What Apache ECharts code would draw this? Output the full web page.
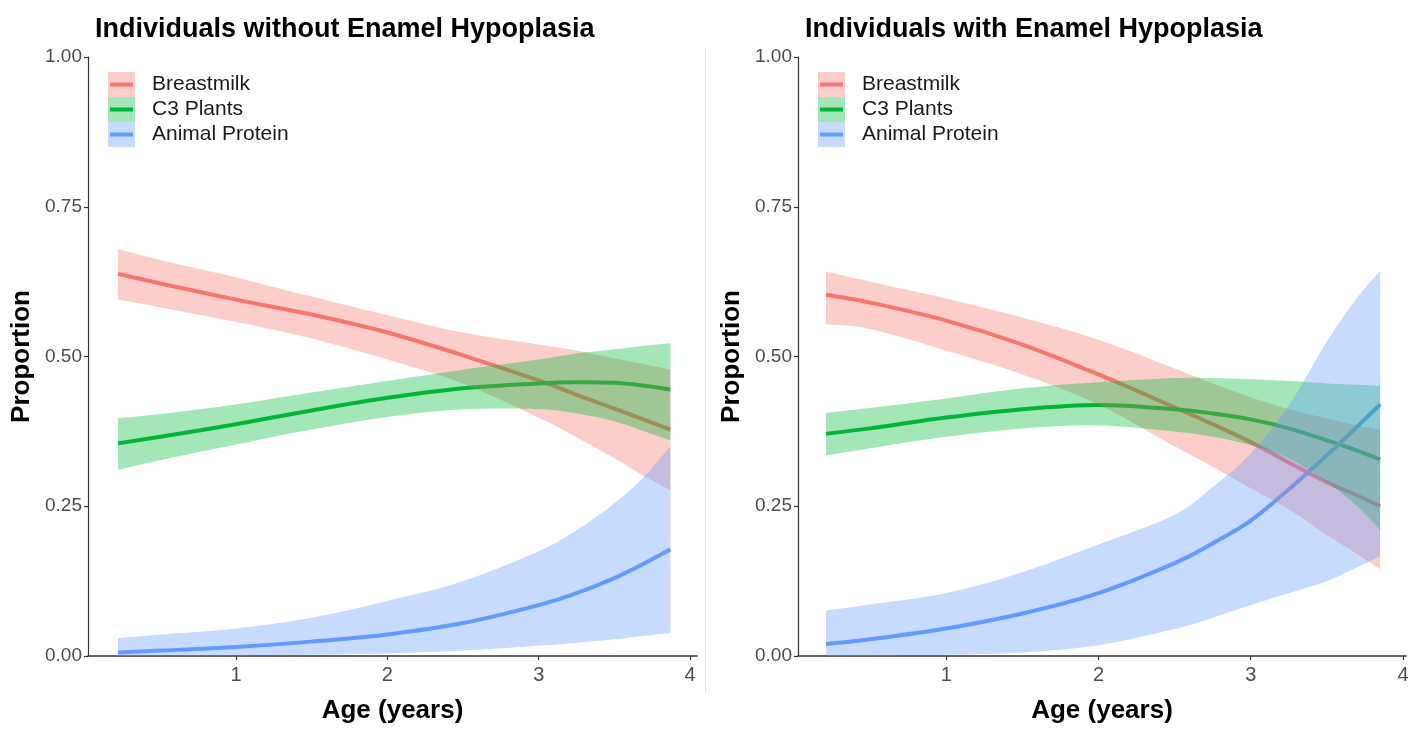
<!DOCTYPE html>
<html><head><meta charset="utf-8">
<script src="https://cdn.jsdelivr.net/npm/echarts@6/dist/echarts.min.js"></script>
<style>html,body{margin:0;padding:0;background:#fff}#c{width:1418px;height:729px}</style>
</head><body><div id="c"></div>
<script>
// ---- Left panel: Individuals without Enamel Hypoplasia ----
const ageL   = [0.22, 0.5, 1.0, 1.5, 2.0, 2.5, 3.0, 3.25, 3.5, 3.7, 3.87];
const bmL    = [0.638, 0.622, 0.595, 0.570, 0.540, 0.502, 0.460, 0.436, 0.413, 0.394, 0.378];
const bmLoL  = [0.595, 0.582, 0.558, 0.530, 0.495, 0.455, 0.398, 0.365, 0.330, 0.300, 0.277];
const bmHiL  = [0.680, 0.661, 0.632, 0.600, 0.569, 0.540, 0.520, 0.510, 0.497, 0.487, 0.478];
const c3L    = [0.355, 0.366, 0.387, 0.410, 0.431, 0.447, 0.455, 0.457, 0.456, 0.451, 0.445];
const c3LoL  = [0.311, 0.327, 0.353, 0.378, 0.399, 0.412, 0.412, 0.405, 0.392, 0.375, 0.360];
const c3HiL  = [0.397, 0.404, 0.420, 0.440, 0.459, 0.478, 0.495, 0.505, 0.512, 0.518, 0.522];
const apL    = [0.006, 0.009, 0.015, 0.024, 0.036, 0.055, 0.085, 0.105, 0.130, 0.155, 0.178];
const apLoL  = [0.000, 0.0005, 0.001, 0.002, 0.004, 0.009, 0.017, 0.022, 0.028, 0.034, 0.038];
const apHiL  = [0.030, 0.036, 0.046, 0.064, 0.092, 0.125, 0.175, 0.210, 0.255, 0.300, 0.350];

// ---- Right panel: Individuals with Enamel Hypoplasia ----
const ageR   = [0.21, 0.5, 1.0, 1.5, 2.0, 2.5, 2.75, 3.0, 3.25, 3.5, 3.7, 3.85];
const bmR    = [0.603, 0.590, 0.560, 0.520, 0.470, 0.415, 0.387, 0.357, 0.323, 0.290, 0.268, 0.250];
const bmLoR  = [0.554, 0.546, 0.510, 0.470, 0.420, 0.350, 0.316, 0.280, 0.245, 0.202, 0.170, 0.145];
const bmHiR  = [0.642, 0.625, 0.597, 0.565, 0.528, 0.480, 0.455, 0.432, 0.412, 0.397, 0.385, 0.378];
const c3R    = [0.371, 0.380, 0.398, 0.412, 0.419, 0.412, 0.405, 0.395, 0.380, 0.360, 0.343, 0.328];
const c3LoR  = [0.335, 0.347, 0.366, 0.380, 0.385, 0.375, 0.366, 0.352, 0.330, 0.290, 0.250, 0.210];
const c3HiR  = [0.406, 0.414, 0.430, 0.447, 0.457, 0.464, 0.464, 0.462, 0.459, 0.455, 0.453, 0.451];
const apR    = [0.020, 0.028, 0.046, 0.071, 0.105, 0.155, 0.188, 0.226, 0.278, 0.335, 0.383, 0.420];
const apLoR  = [0.000, 0.0005, 0.002, 0.006, 0.018, 0.045, 0.064, 0.085, 0.105, 0.125, 0.148, 0.167];
const apHiR  = [0.076, 0.086, 0.105, 0.140, 0.186, 0.236, 0.282, 0.338, 0.418, 0.525, 0.598, 0.643];

const titles = ['Individuals without Enamel Hypoplasia', 'Individuals with Enamel Hypoplasia'];
const seriesNames = ['Breastmilk', 'C3 Plants', 'Animal Protein'];
const xTicks = [1, 2, 3, 4];

const FONT = '"Liberation Sans", Arial, Helvetica, sans-serif';
const lineColors = ['#F8766D', '#00B238', '#619CFF'];
const bandColors = ['rgba(248,118,109,0.36)', 'rgba(0,186,56,0.36)', 'rgba(97,156,255,0.36)'];

const panels = [
  {age: ageL, mean: [bmL, c3L, apL], lo: [bmLoL, c3LoL, apLoL], hi: [bmHiL, c3HiL, apHiL]},
  {age: ageR, mean: [bmR, c3R, apR], lo: [bmLoR, c3LoR, apLoR], hi: [bmHiR, c3HiR, apHiR]}
];

const grids = [
  {left: 88, top: 57, width: 609, height: 605},
  {left: 798, top: 57, width: 608, height: 605}
];
const xRanges = [[0.022, 4.046], [0.026, 4.02]];

const xAxes = grids.map((g, i) => ({
  type: 'value', gridIndex: i, min: xRanges[i][0], max: xRanges[i][1],
  name: 'Age (years)', nameLocation: 'middle', nameGap: 42,
  nameTextStyle: {fontFamily: FONT, fontSize: 26, fontWeight: 'bold', color: '#000'},
  axisLine: {show: true, onZero: false, lineStyle: {color: '#333', width: 1.6}},
  axisTick: {show: true, length: 4, customValues: xTicks, lineStyle: {color: '#333', width: 1.2}},
  axisLabel: {customValues: xTicks, margin: 9, fontFamily: FONT, fontSize: 20, color: '#4d4d4d'},
  splitLine: {show: false}
}));
const yAxes = grids.map((g, i) => ({
  type: 'value', gridIndex: i, min: 0, max: 1, interval: 0.25,
  name: 'Proportion', nameLocation: 'middle', nameGap: 53, nameRotate: 90,
  nameTextStyle: {fontFamily: FONT, fontSize: 26, fontWeight: 'bold', color: '#000'},
  axisLine: {show: true, lineStyle: {color: '#333', width: 1.2}},
  axisTick: {show: true, length: 4, lineStyle: {color: '#333', width: 1.2}},
  axisLabel: {margin: 6, fontFamily: FONT, fontSize: 19, color: '#4d4d4d', formatter: v => v.toFixed(2)},
  splitLine: {show: false}
}));

// Catmull-Rom -> cubic bezier path through pixel points
function curvePath(pts, moveFirst) {
  let d = (moveFirst ? 'M' : 'L') + pts[0][0] + ' ' + pts[0][1];
  for (let i = 0; i < pts.length - 1; i++) {
    const p0 = pts[Math.max(i - 1, 0)], p1 = pts[i], p2 = pts[i + 1], p3 = pts[Math.min(i + 2, pts.length - 1)];
    const c1x = p1[0] + (p2[0] - p0[0]) / 6, c1y = p1[1] + (p2[1] - p0[1]) / 6;
    const c2x = p2[0] - (p3[0] - p1[0]) / 6, c2y = p2[1] - (p3[1] - p1[1]) / 6;
    d += ' C' + c1x + ' ' + c1y + ' ' + c2x + ' ' + c2y + ' ' + p2[0] + ' ' + p2[1];
  }
  return d;
}

const series = [];
panels.forEach((p, gi) => {
  for (let k = 0; k < 3; k++) {
    const ages = p.age, m = p.mean[k], col = lineColors[k];
    series.push({
      type: 'custom', name: seriesNames[k], xAxisIndex: gi, yAxisIndex: gi, z: 2, silent: true,
      data: ages.map((a, i) => [a, m[i]]),
      encode: {x: 0, y: 1},
      renderItem: function (params, api) {
        if (params.dataIndex !== 0) return null;
        const pts = ages.map((a, i) => api.coord([a, m[i]]));
        return {type: 'path', shape: {pathData: curvePath(pts, true)},
                style: {fill: 'none', stroke: col, lineWidth: 4, lineCap: 'butt'}};
      }
    });
  }
  for (let k = 0; k < 3; k++) {
    const ages = p.age, lo = p.lo[k], hi = p.hi[k], col = bandColors[k];
    series.push({
      type: 'custom', xAxisIndex: gi, yAxisIndex: gi, z: 3, silent: true,
      data: ages.map((a, i) => [a, lo[i], hi[i]]),
      encode: {x: 0, y: [1, 2]},
      renderItem: function (params, api) {
        if (params.dataIndex !== 0) return null;
        const up = ages.map((a, i) => api.coord([a, hi[i]]));
        const dn = ages.map((a, i) => api.coord([a, lo[i]])).reverse();
        const d = curvePath(up, true) + ' ' + curvePath(dn, false) + ' Z';
        return {type: 'path', shape: {pathData: d}, style: {fill: col}};
      }
    });
  }
});

// legend drawn as grouped graphic keys (ribbon + line) with text
const graphic = [];
[108, 818].forEach(x0 => {
  seriesNames.forEach((nm, k) => {
    const y0 = 72 + k * 25;
    graphic.push({type: 'rect', left: x0, top: y0, shape: {width: 27, height: 25}, style: {fill: bandColors[k]}, z: 10});
    graphic.push({type: 'line', shape: {x1: x0 + 2, y1: y0 + 12.5, x2: x0 + 25, y2: y0 + 12.5}, style: {stroke: lineColors[k], lineWidth: 4}, z: 11});
    graphic.push({type: 'text', x: x0 + 44, y: y0 + 12.5, style: {text: nm, font: '21px ' + FONT, fill: '#1a1a1a', textVerticalAlign: 'middle'}, z: 11});
  });
});
graphic.push({type: 'line', shape: {x1: 705.5, y1: 48, x2: 705.5, y2: 692}, style: {stroke: '#e0e0e0', lineWidth: 1}, z: 1});

const chart = echarts.init(document.getElementById('c'), null, {renderer: 'canvas'});
chart.setOption({
  animation: false,
  backgroundColor: '#fff',
  title: titles.map((t, i) => ({
    text: t, left: i === 0 ? 90 : 800, top: 11,
    textStyle: {fontFamily: FONT, fontSize: 27, fontWeight: 'bold', color: '#000'}
  })),
  grid: grids,
  xAxis: xAxes,
  yAxis: yAxes,
  series: series,
  graphic: graphic
});
</script></body></html>
